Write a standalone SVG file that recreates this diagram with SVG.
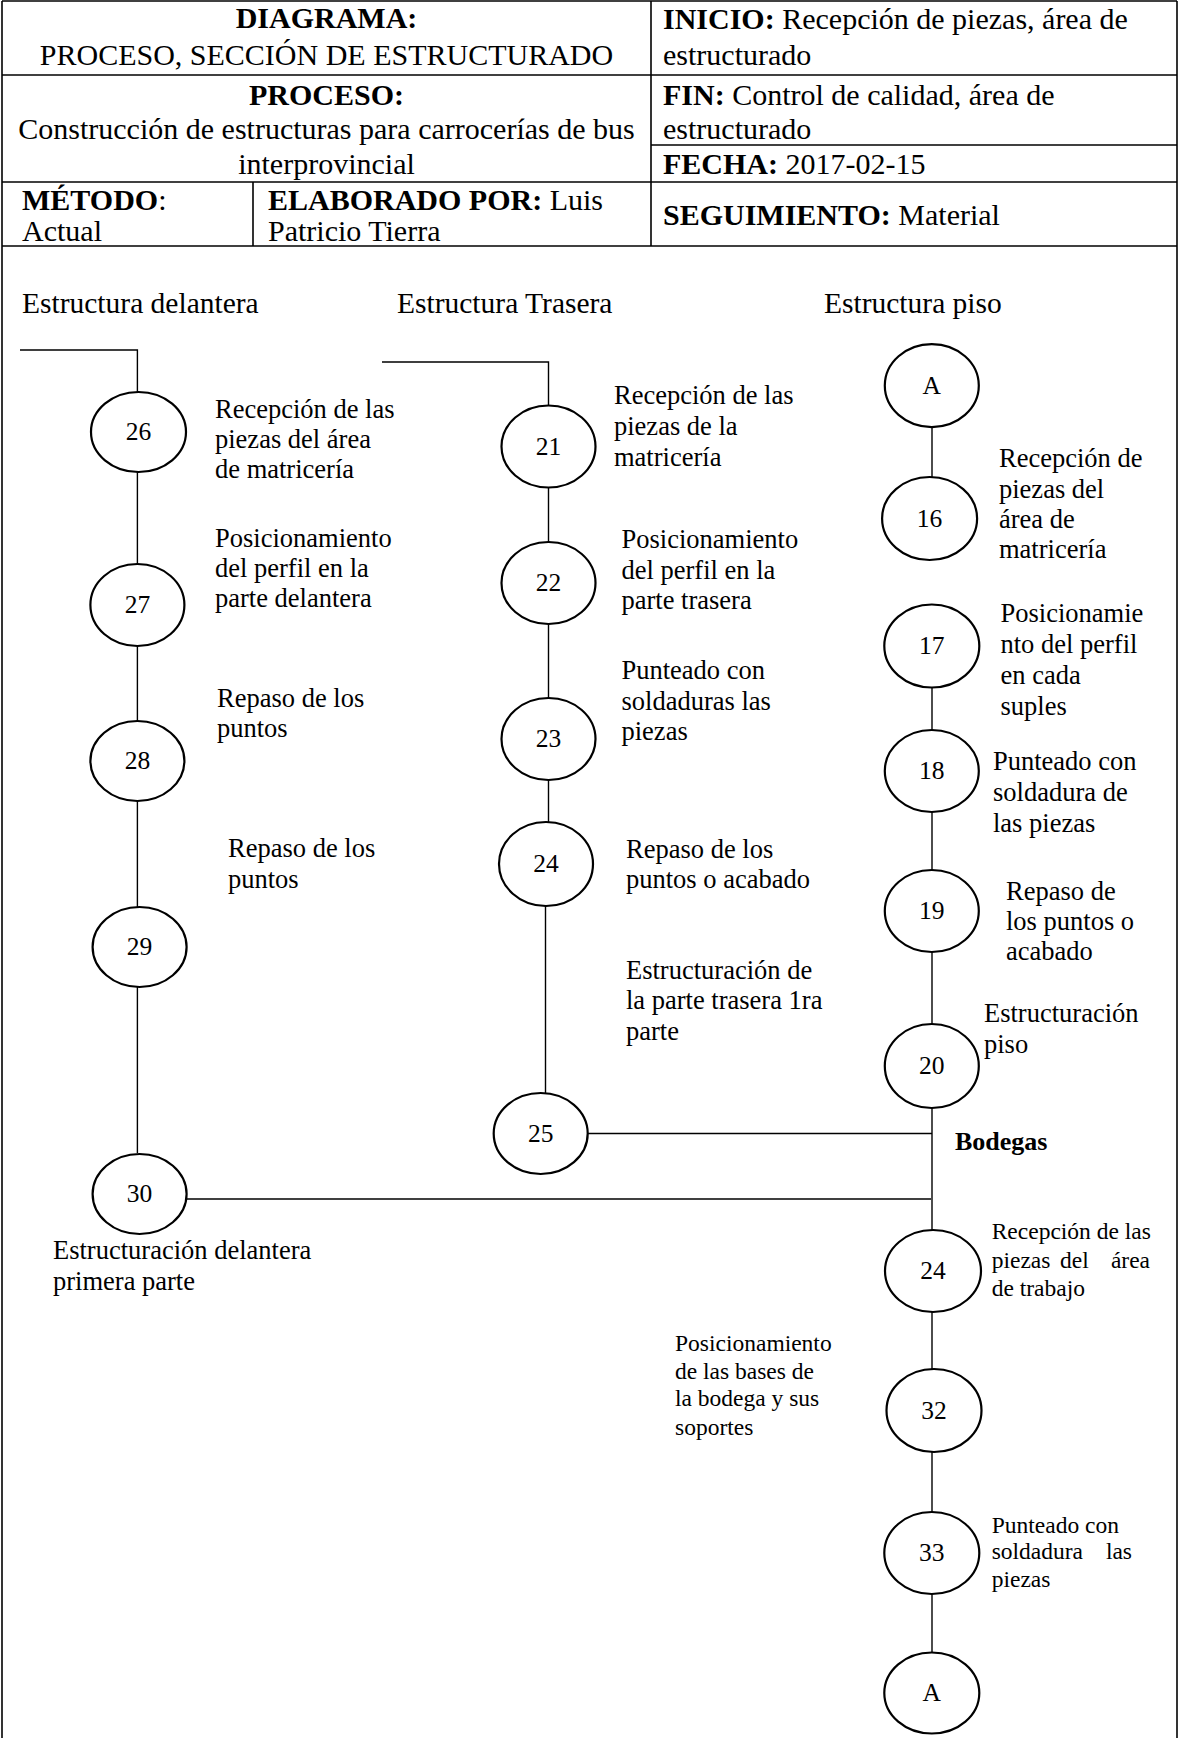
<svg xmlns="http://www.w3.org/2000/svg" width="1179" height="1738" viewBox="0 0 1179 1738">
<style>
text{font-family:"Liberation Serif","Times New Roman",serif;fill:#000}
.h{font-size:30px}
.t{font-size:29.5px}
.l{font-size:26.5px}
.s{font-size:23.5px}
.n{font-size:25.5px;text-anchor:middle}
.c{text-anchor:middle}
.b{font-weight:bold}
.grid line{stroke:#000;stroke-width:1.6}
.conn line,.conn polyline{stroke:#000;stroke-width:1.4;fill:none}
ellipse{fill:#fff;stroke:#000;stroke-width:2.2}
</style>
<rect width="1179" height="1738" fill="#fff"/>
<g id="header" class="grid">
<line x1="2" y1="1" x2="1177" y2="1"/>
<line x1="2" y1="1" x2="2" y2="1738"/>
<line x1="1177" y1="1" x2="1177" y2="1738"/>
<line x1="651" y1="1" x2="651" y2="246"/>
<line x1="2" y1="75" x2="1177" y2="75"/>
<line x1="651" y1="145" x2="1177" y2="145"/>
<line x1="2" y1="182" x2="1177" y2="182"/>
<line x1="253" y1="182" x2="253" y2="246"/>
<line x1="2" y1="246" x2="1177" y2="246"/>
<text class="h c b" x="326.5" y="28">DIAGRAMA:</text>
<text class="h c" x="326.5" y="65">PROCESO, SECCIÓN DE ESTRUCTURADO</text>
<text class="h c b" x="326.5" y="105">PROCESO:</text>
<text class="h c" x="326.5" y="139">Construcción de estructuras para carrocerías de bus</text>
<text class="h c" x="326.5" y="174">interprovincial</text>
<text class="h" x="22" y="210"><tspan class="b">MÉTODO</tspan>:</text>
<text class="h" x="22" y="241">Actual</text>
<text class="h" x="268" y="210"><tspan class="b">ELABORADO POR:</tspan> Luis</text>
<text class="h" x="268" y="241">Patricio Tierra</text>
<text class="h" x="663" y="29"><tspan class="b">INICIO:</tspan> Recepción de piezas, área de</text>
<text class="h" x="663" y="65">estructurado</text>
<text class="h" x="663" y="105"><tspan class="b">FIN:</tspan> Control de calidad, área de</text>
<text class="h" x="663" y="139">estructurado</text>
<text class="h" x="663" y="174"><tspan class="b">FECHA:</tspan> 2017-02-15</text>
<text class="h" x="663" y="225"><tspan class="b">SEGUIMIENTO:</tspan> Material</text>
</g>
<g id="titles">
<text class="t" x="22" y="313">Estructura delantera</text>
<text class="t" x="397" y="313">Estructura Trasera</text>
<text class="t" x="824" y="313">Estructura piso</text>
<text class="l b" x="955" y="1150" style="font-size:26px">Bodegas</text>
</g>
<g id="connectors" class="conn">
<polyline points="20,350 137.4,350 137.4,1153"/>
<polyline points="382,362 548.5,362 548.5,823"/>
<line x1="545.5" y1="864" x2="545.5" y2="1093"/>
<line x1="587" y1="1133.5" x2="932" y2="1133.5"/>
<line x1="186" y1="1199" x2="931" y2="1199"/>
<line x1="932" y1="385" x2="932" y2="478"/>
<line x1="932" y1="646" x2="932" y2="1652"/>
</g>
<g id="n26"><ellipse cx="138.5" cy="432" rx="47.5" ry="40"/><text class="n" x="138.5" y="440">26</text></g>
<g id="n27"><ellipse cx="137.4" cy="605" rx="47" ry="41"/><text class="n" x="137.4" y="613">27</text></g>
<g id="n28"><ellipse cx="137.4" cy="761" rx="47" ry="40"/><text class="n" x="137.4" y="769">28</text></g>
<g id="n29"><ellipse cx="139.6" cy="947" rx="47" ry="40"/><text class="n" x="139.6" y="955">29</text></g>
<g id="n30"><ellipse cx="139.6" cy="1194" rx="47" ry="40"/><text class="n" x="139.6" y="1202">30</text></g>
<g id="n21"><ellipse cx="548.5" cy="446.5" rx="47" ry="41"/><text class="n" x="548.5" y="454.5">21</text></g>
<g id="n22"><ellipse cx="548.5" cy="583" rx="47" ry="41"/><text class="n" x="548.5" y="591">22</text></g>
<g id="n23"><ellipse cx="548.5" cy="739" rx="47" ry="41"/><text class="n" x="548.5" y="747">23</text></g>
<g id="n24a"><ellipse cx="546" cy="864" rx="47" ry="42"/><text class="n" x="546" y="872">24</text></g>
<g id="n25"><ellipse cx="540.7" cy="1133.5" rx="47" ry="40.5"/><text class="n" x="540.7" y="1141.5">25</text></g>
<g id="nA1"><ellipse cx="931.8" cy="385.6" rx="47" ry="41.5"/><text class="n" x="931.8" y="393.6">A</text></g>
<g id="n16"><ellipse cx="929.6" cy="518.5" rx="47.5" ry="41.5"/><text class="n" x="929.6" y="526.5">16</text></g>
<g id="n17"><ellipse cx="931.8" cy="646" rx="47.5" ry="41.5"/><text class="n" x="931.8" y="654">17</text></g>
<g id="n18"><ellipse cx="931.8" cy="771" rx="47" ry="41"/><text class="n" x="931.8" y="779">18</text></g>
<g id="n19"><ellipse cx="931.8" cy="911" rx="47" ry="41"/><text class="n" x="931.8" y="919">19</text></g>
<g id="n20"><ellipse cx="931.8" cy="1066" rx="47" ry="42"/><text class="n" x="931.8" y="1074">20</text></g>
<g id="n24b"><ellipse cx="933" cy="1271" rx="48" ry="41"/><text class="n" x="933" y="1279">24</text></g>
<g id="n32"><ellipse cx="934" cy="1410.5" rx="47.5" ry="41.5"/><text class="n" x="934" y="1418.5">32</text></g>
<g id="n33"><ellipse cx="931.8" cy="1553" rx="47.5" ry="41"/><text class="n" x="931.8" y="1561">33</text></g>
<g id="nA2"><ellipse cx="931.8" cy="1693" rx="47.5" ry="40.5"/><text class="n" x="931.8" y="1701">A</text></g>
<g id="labels" class="l">
<text class="l"><tspan x="215" y="418">Recepción de las</tspan><tspan x="215" y="448">piezas del área</tspan><tspan x="215" y="478">de matricería</tspan></text>
<text class="l"><tspan x="215" y="547">Posicionamiento</tspan><tspan x="215" y="577">del perfil en la</tspan><tspan x="215" y="607">parte delantera</tspan></text>
<text class="l"><tspan x="217" y="707">Repaso de los</tspan><tspan x="217" y="737">puntos</tspan></text>
<text class="l"><tspan x="228" y="857">Repaso de los</tspan><tspan x="228" y="888">puntos</tspan></text>
<text class="l"><tspan x="53" y="1259">Estructuración delantera</tspan><tspan x="53" y="1290">primera parte</tspan></text>
<text class="l"><tspan x="614" y="404">Recepción de las</tspan><tspan x="614" y="435">piezas de la</tspan><tspan x="614" y="466">matricería</tspan></text>
<text class="l"><tspan x="621.5" y="548">Posicionamiento</tspan><tspan x="621.5" y="579">del perfil en la</tspan><tspan x="621.5" y="609">parte trasera</tspan></text>
<text class="l"><tspan x="621.5" y="679">Punteado con</tspan><tspan x="621.5" y="710">soldaduras las</tspan><tspan x="621.5" y="740">piezas</tspan></text>
<text class="l"><tspan x="626" y="858">Repaso de los</tspan><tspan x="626" y="888">puntos o acabado</tspan></text>
<text class="l"><tspan x="626" y="979">Estructuración de</tspan><tspan x="626" y="1009">la parte trasera 1ra</tspan><tspan x="626" y="1040">parte</tspan></text>
<text class="l"><tspan x="999" y="467">Recepción de</tspan><tspan x="999" y="498">piezas del</tspan><tspan x="999" y="528">área de</tspan><tspan x="999" y="558">matricería</tspan></text>
<text class="l"><tspan x="1000.5" y="622">Posicionamie</tspan><tspan x="1000.5" y="653">nto del perfil</tspan><tspan x="1000.5" y="684">en cada</tspan><tspan x="1000.5" y="715">suples</tspan></text>
<text class="l"><tspan x="993" y="770">Punteado con</tspan><tspan x="993" y="801">soldadura de</tspan><tspan x="993" y="832">las piezas</tspan></text>
<text class="l"><tspan x="1006" y="900">Repaso de</tspan><tspan x="1006" y="930">los puntos o</tspan><tspan x="1006" y="960">acabado</tspan></text>
<text class="l"><tspan x="984" y="1022">Estructuración</tspan><tspan x="984" y="1053">piso</tspan></text>
<text class="s" x="991.7" y="1239">Recepción de las</text>
<text class="s" x="991.7" y="1268">piezas</text>
<text class="s" x="1060" y="1268">del</text>
<text class="s" x="1150" y="1268" text-anchor="end">área</text>
<text class="s" x="991.7" y="1296">de trabajo</text>
<text class="s"><tspan x="675" y="1351">Posicionamiento</tspan><tspan x="675" y="1379">de las bases de</tspan><tspan x="675" y="1406">la bodega y sus</tspan><tspan x="675" y="1435">soportes</tspan></text>
<text class="s" x="991.7" y="1533">Punteado con</text>
<text class="s" x="991.7" y="1559">soldadura</text>
<text class="s" x="1132" y="1559" text-anchor="end">las</text>
<text class="s" x="991.7" y="1587">piezas</text>
</g>
</svg>
